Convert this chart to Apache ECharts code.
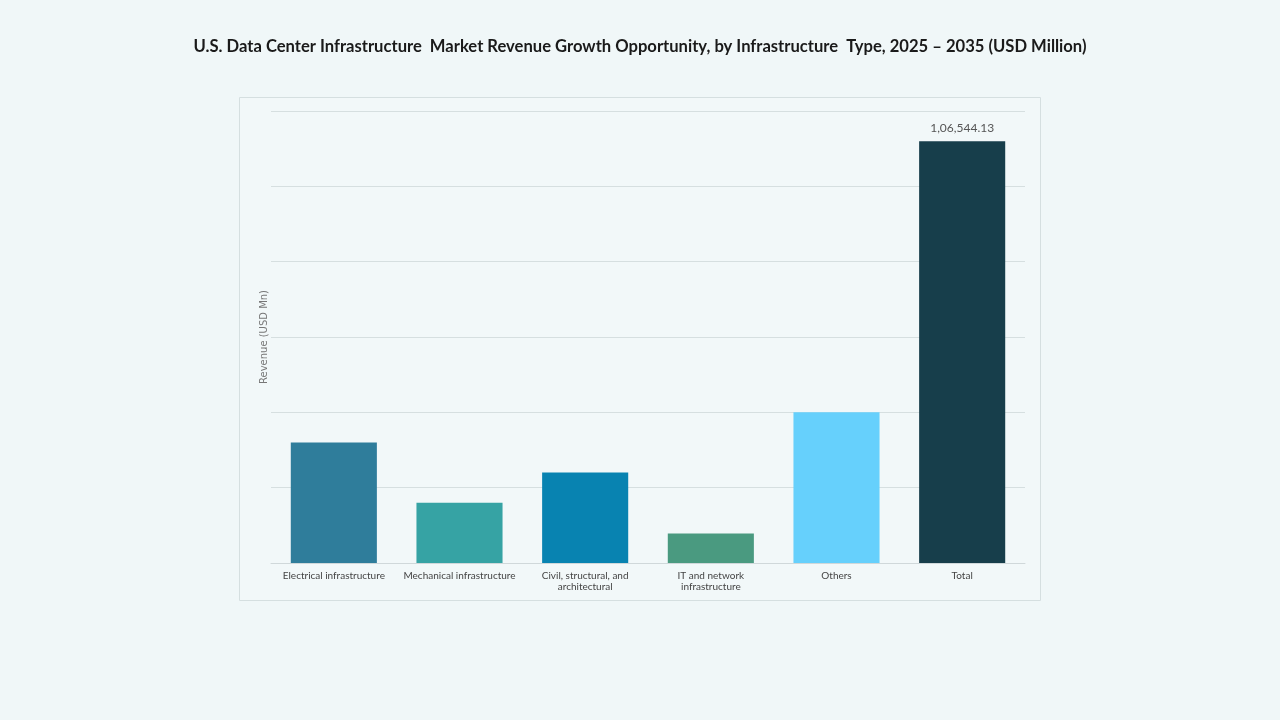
<!DOCTYPE html>
<html>
<head>
<meta charset="utf-8">
<script src="https://cdn.jsdelivr.net/npm/echarts@6/dist/echarts.min.js"></script>
<style>
html,body{margin:0;padding:0;background:#f0f7f8;}
#c{width:1280px;height:720px;}
</style>
</head>
<body>
<div id="c"></div>
<script>
const titleText = 'U.S. Data Center Infrastructure  Market Revenue Growth Opportunity, by Infrastructure  Type, 2025 \u2013 2035 (USD Million)';
const categories = ['Electrical infrastructure', 'Mechanical infrastructure', 'Civil, structural, and\narchitectural', 'IT and network\ninfrastructure', 'Others', 'Total'];
const values = [30440, 15220, 22830, 7420, 38050, 106544.13];
const barColors = ['#2f7d9b', '#36a3a4', '#0883b1', '#4a9a80', '#66d0fc', '#173e4b'];
const yAxisName = 'Revenue (USD Mn)';
const totalLabel = '1,06,544.13';

const chart = echarts.init(document.getElementById('c'));
const FONT = 'Lato, "DejaVu Sans", sans-serif';
chart.setOption({
  backgroundColor: '#f0f7f8',
  animation: false,
  title: {
    text: titleText, left: 'center', top: 33,
    textStyle: {fontSize: 16.6, fontWeight: 'bold', color: '#1a1a1a', fontFamily: 'Lato, "Liberation Sans", sans-serif'}
  },
  graphic: [{
    type: 'rect', left: 239, top: 97, z: -1,
    shape: {width: 801, height: 503},
    style: {fill: '#f2f8f9', stroke: '#d5dfe0', lineWidth: 1}
  }],
  grid: {left: 271, right: 255, top: 111, bottom: 157},
  xAxis: {
    type: 'category', data: categories,
    axisTick: {show: false},
    axisLine: {lineStyle: {color: '#d0d8da'}},
    axisLabel: {fontSize: 10, color: '#444', fontFamily: FONT, margin: 7, lineHeight: 11, interval: 0}
  },
  yAxis: {
    type: 'value', min: 0, max: 114154.14, interval: 19025.69,
    name: yAxisName, nameLocation: 'middle', nameGap: 2,
    nameTextStyle: {fontSize: 10, color: '#777', fontFamily: '"DejaVu Sans", sans-serif'},
    axisLabel: {show: false}, axisTick: {show: false}, axisLine: {show: false},
    splitLine: {lineStyle: {color: '#d6dfe0'}}
  },
  series: [{
    type: 'bar', barCategoryGap: '31.5%',
    data: values.map((v, i) => ({
      value: v,
      itemStyle: {color: barColors[i]},
      label: i === values.length - 1 ? {show: true, position: 'top', distance: 7, formatter: totalLabel, fontSize: 12, color: '#555', fontFamily: FONT} : {show: false}
    }))
  }]
});
</script>
</body>
</html>
